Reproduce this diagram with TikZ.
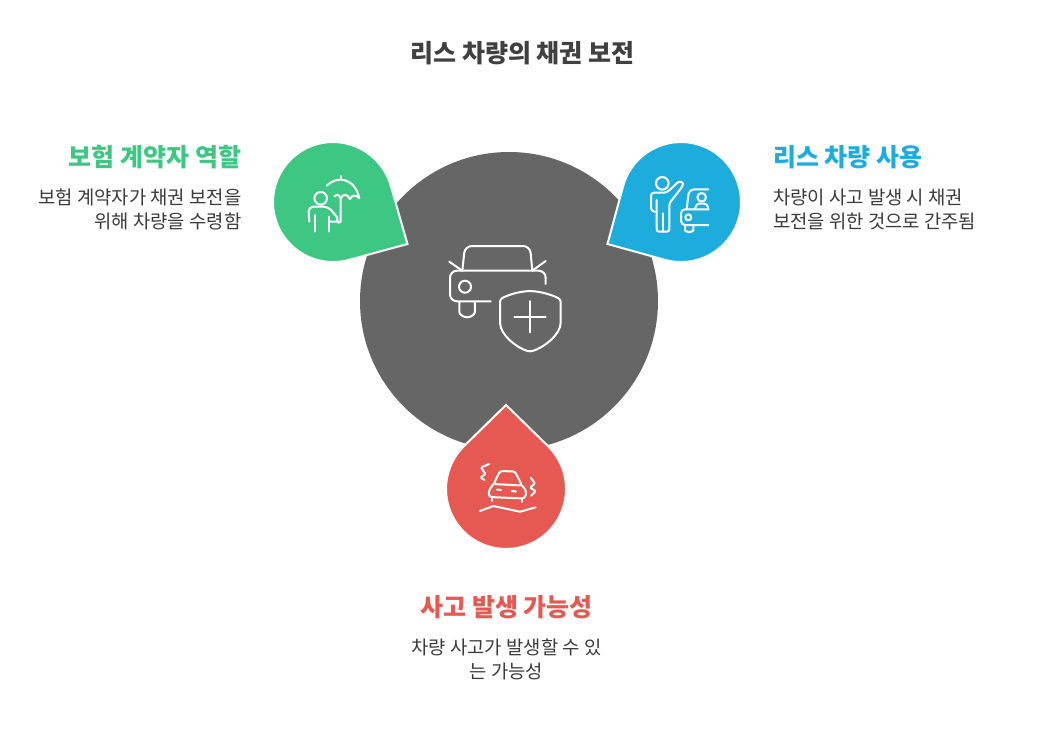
\documentclass[tikz,border=0pt]{standalone}
\usepackage{fontspec}
\setmainfont{Noto Sans CJK KR}
\definecolor{coregray}{HTML}{666666}
\definecolor{dropgreen}{HTML}{3EC783}
\definecolor{dropblue}{HTML}{1EACDC}
\definecolor{dropred}{HTML}{E65852}
\definecolor{titlegray}{HTML}{404040}
\definecolor{bodygray}{HTML}{3A3A3A}
\tikzset{
  headtext/.style={font=\fontsize{25}{30}\selectfont\bfseries,inner sep=0},
  bodytext/.style={font=\fontsize{18.8}{26}\selectfont,text=bodygray,inner sep=0},
  icon/.style={draw=white,line width=2,line cap=round,line join=round,rounded corners=2.5},
  dropshape/.style={draw=white,line width=2},
}
\begin{document}
\begin{tikzpicture}[x=1pt,y=-1pt]
\useasboundingbox (0,0) rectangle (1041,753);
\fill[white] (0,0) rectangle (1041,753);
\fill[coregray] (509,301) circle[radius=149];
% the three drops
\path[dropshape,fill=dropgreen] (407.5,244) -- (390.7,185.5) arc[start angle=-16,end angle=-285.2,radius=60] -- cycle;
\path[dropshape,fill=dropblue] (607.5,244) -- (623.3,185.5) arc[start angle=196,end angle=465.2,radius=60] -- cycle;
\path[dropshape,fill=dropred] (506,405) -- (548,446.1) arc[start angle=-45.6,end angle=225.6,radius=60] -- cycle;
% car and shield
\draw[icon,rounded corners=7] (462.3,270.7) -- (465,246) -- (530,246) -- (532.3,270.7);
\draw[icon,rounded corners=7] (490.7,301.3) -- (450,301.3) -- (450,270.7) -- (545.7,270.7) -- (545.7,284);
\draw[icon] (449.3,261.7) -- (462.3,270.7);
\draw[icon] (545.7,261) -- (532.3,270.7);
\draw[icon] (465,286.7) circle[radius=6];
\draw[icon] (459.3,301.3) -- (459.3,309.5) arc[start angle=180,end angle=0,radius=7.8] -- (474.9,301.3);
\draw[icon] (530,291) .. controls (518,291.5) and (508,295) .. (500,299.3) -- (500,320) .. controls (500,335) and (517,348) .. (530,351.7) .. controls (543,348) and (560.7,335) .. (560.7,320) -- (560.7,299.3) .. controls (552,295) and (542,291.5) .. (530,291);
\draw[icon] (514.3,316.7) -- (545.7,316.7);
\draw[icon] (530,301) -- (530,332.3);
% person under umbrella
\draw[icon] (320.7,198.3) circle[radius=6.3];
\draw[icon,rounded corners=5] (309.3,221.7) -- (308.3,206.7) -- (328.3,206.7) -- (336.7,216.7);
\draw[icon,rounded corners=1] (336.7,216.7) -- (338,221.7) -- (329.3,221.7);
\draw[icon] (315,231.7) -- (315,215);
\draw[icon] (329.3,231.7) -- (329.3,216.7);
\draw[icon] (340.7,198.3) -- (340.7,219.3) .. controls (340.7,221.5) and (340,222.7) .. (338,222.7);
\draw[icon] (340.7,176) -- (340.7,179);
\draw[icon,rounded corners=0] (326.7,185.7) .. controls (337,175) and (355,178) .. (359.3,198.3) .. controls (356,194.5) and (352,194.5) .. (350,199) .. controls (347,193.5) and (343,193.5) .. (340.7,198.3) .. controls (339,194) and (336,194) .. (334.3,196);
% person beside car
\draw[icon] (662.3,183.3) circle[radius=6.3];
\draw[icon,rounded corners=3] (655,211.7) -- (651,211) -- (651,192.7) -- (666.7,192.7) -- (676.7,183.3);
\draw[icon] (676.7,183.3) .. controls (679,180.5) and (683.5,182) .. (682.3,186.7) -- (669.3,203.3) -- (669.3,231.7) -- (656.7,231.7) -- (656.7,200);
\draw[icon] (663,231.7) -- (663,213.3);
\draw[icon,rounded corners=5] (708.3,189.3) -- (689,189.3) -- (686.7,209.3);
\draw[icon,rounded corners=4] (708.3,209.3) -- (681,209.3) -- (681,225) -- (708.3,225);
\draw[icon] (685,225) -- (685,228) arc[start angle=180,end angle=0,radius=4.2] -- (693.4,225);
\draw[icon] (688.3,217.3) circle[radius=3];
\draw[icon] (701.7,197.3) circle[radius=4.3];
\draw[icon] (695,209.3) .. controls (695.5,205) and (698,203.5) .. (701.7,203.5) .. controls (705.5,203.5) and (708,205) .. (708.3,209.3);
% car on rough road
\draw[icon,rounded corners=1] (489,464) -- (481,467.5) -- (485.5,474) -- (480.5,477.5) -- (484.5,480);
\draw[icon,rounded corners=1] (530.7,477.7) -- (535,483.3) -- (530,487.7) -- (535.7,491) -- (531,495.7);
\draw[icon] (493.5,484) -- (500,471) -- (515,471.5) -- (522,485.5) -- cycle;
\draw[icon,rounded corners=3] (493.5,484) -- (488.5,491) -- (489,497) -- (525,498.5) -- (526.5,491) -- (522,485.5);
\draw[icon] (491.5,497) -- (491.5,501);
\draw[icon] (522,498.5) -- (522,502);
\draw[icon] (497,489.5) -- (501,490);
\draw[icon] (512,491) -- (516,491.5);
\draw[icon,rounded corners=0] (480,511) -- (493.3,506) -- (520,511.7) -- (535.7,507.3);
% texts
\node[headtext,text=titlegray] (title) at (522.5,53.5) {리스 차량의 채권 보전};
\node[headtext,text=dropgreen,anchor=east] (rolehead) at (241.5,157.5) {보험 계약자 역할};
\node[bodytext,anchor=east] (rolea) at (241.5,197) {보험 계약자가 채권 보전을};
\node[bodytext,anchor=east] (roleb) at (241.5,221) {위해 차량을 수령함};
\node[headtext,text=dropblue,anchor=west] (usehead) at (773,157.5) {리스 차량 사용};
\node[bodytext,anchor=west] (usea) at (773,197) {차량이 사고 발생 시 채권};
\node[bodytext,anchor=west] (useb) at (773,221) {보전을 위한 것으로 간주됨};
\node[headtext,text=dropred] (riskhead) at (506.5,607.5) {사고 발생 가능성};
\node[bodytext] (riska) at (506.5,647) {차량 사고가 발생할 수 있};
\node[bodytext] (riskb) at (506.5,671) {는 가능성};
\end{tikzpicture}
\end{document}
